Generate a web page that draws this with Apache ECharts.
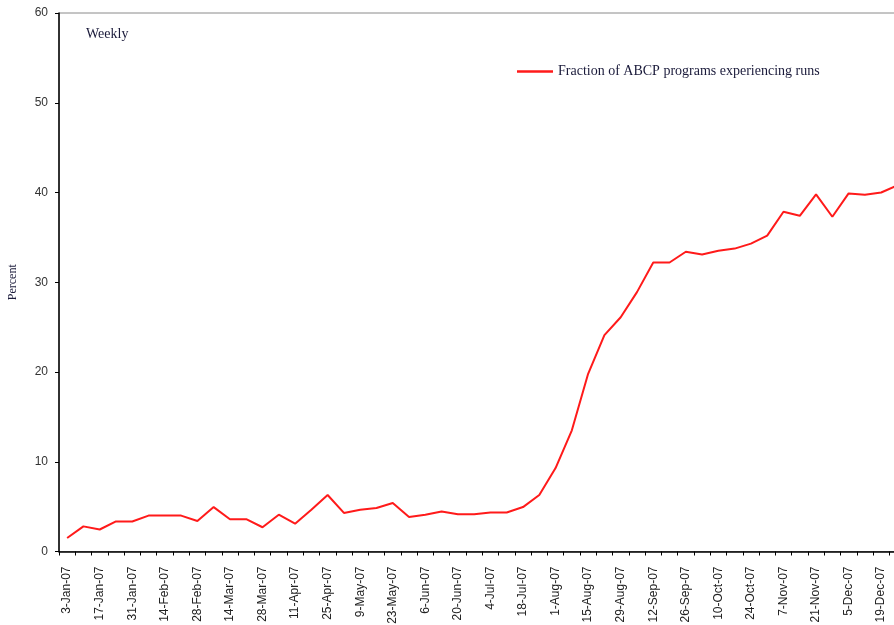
<!DOCTYPE html>
<html>
<head>
<meta charset="utf-8">
<script src="https://cdn.jsdelivr.net/npm/echarts@6/dist/echarts.min.js"></script>
<style>
html,body{margin:0;padding:0;background:#fff;}
#c{width:894px;height:625px;}
</style>
</head>
<body>
<div id="c"></div>
<script>
var categories = [
  '3-Jan-07','10-Jan-07','17-Jan-07','24-Jan-07','31-Jan-07',
  '7-Feb-07','14-Feb-07','21-Feb-07','28-Feb-07',
  '7-Mar-07','14-Mar-07','21-Mar-07','28-Mar-07',
  '4-Apr-07','11-Apr-07','18-Apr-07','25-Apr-07',
  '2-May-07','9-May-07','16-May-07','23-May-07','30-May-07',
  '6-Jun-07','13-Jun-07','20-Jun-07','27-Jun-07',
  '4-Jul-07','11-Jul-07','18-Jul-07','25-Jul-07',
  '1-Aug-07','8-Aug-07','15-Aug-07','22-Aug-07','29-Aug-07',
  '5-Sep-07','12-Sep-07','19-Sep-07','26-Sep-07',
  '3-Oct-07','10-Oct-07','17-Oct-07','24-Oct-07','31-Oct-07',
  '7-Nov-07','14-Nov-07','21-Nov-07','28-Nov-07',
  '5-Dec-07','12-Dec-07','19-Dec-07','26-Dec-07'
];
var seriesName = 'Fraction of ABCP programs experiencing runs';
var fractionRuns = [
  1.5, 2.8, 2.45, 3.35, 3.35,
  4.0, 4.0, 4.0, 3.4,
  4.95, 3.6, 3.6, 2.7,
  4.1, 3.1, 4.65, 6.3,
  4.3, 4.65, 4.85, 5.4, 3.85,
  4.1, 4.45, 4.15, 4.15,
  4.35, 4.35, 4.95, 6.3,
  9.3, 13.5, 19.8, 24.1, 26.1,
  28.9, 32.2, 32.2, 33.4,
  33.1, 33.5, 33.75, 34.3, 35.2,
  37.85, 37.4, 39.8, 37.3,
  39.9, 39.75, 40.0, 40.8
];
var yTicks = {min: 0, max: 60, interval: 10};

var chart = echarts.init(document.getElementById('c'), null, {renderer: 'canvas'});
chart.setOption({
  animation: false,
  backgroundColor: '#ffffff',
  grid: {
    left: 59, top: 13, bottom: 73.5, right: -11.6,
    containLabel: false,
    outerBoundsMode: 'none',
    show: true,
    borderColor: '#8a8a8a',
    borderWidth: 1,
    backgroundColor: 'transparent'
  },
  legend: {
    data: [{name: seriesName, icon: 'rect'}],
    left: 517, top: 64, padding: 0,
    itemWidth: 36, itemHeight: 2.5,
    itemStyle: {color: '#ff1a1a', borderWidth: 0},
    textStyle: {fontFamily: 'Liberation Serif', fontSize: 14, color: '#1a1a3a', lineHeight: 15}
  },
  graphic: [{
    type: 'text', left: 86, top: 27,
    style: {text: 'Weekly', font: '14px "Liberation Serif"', fill: '#1a1a3a'}
  }],
  xAxis: {
    type: 'category',
    data: categories,
    boundaryGap: true,
    axisLine: {show: true, lineStyle: {color: '#000', width: 1.5}},
    axisTick: {show: true, interval: 0, length: 4, lineStyle: {color: '#000'}},
    axisLabel: {
      interval: 1, rotate: 90, margin: 15,
      fontFamily: 'Liberation Sans', fontSize: 12, color: '#222'
    },
    splitLine: {show: false}
  },
  yAxis: {
    type: 'value',
    min: yTicks.min, max: yTicks.max, interval: yTicks.interval,
    name: 'Percent',
    nameLocation: 'middle',
    nameGap: 40,
    nameTextStyle: {fontFamily: 'Liberation Serif', fontSize: 12, color: '#1a1a3a'},
    axisLine: {show: true, lineStyle: {color: '#000', width: 1.5}},
    axisTick: {show: true, length: 4, lineStyle: {color: '#000'}},
    axisLabel: {margin: 11, fontFamily: 'Liberation Sans', fontSize: 12, color: '#333'},
    splitLine: {show: false}
  },
  series: [{
    name: seriesName,
    type: 'line',
    data: fractionRuns,
    symbol: 'none',
    showSymbol: false,
    smooth: false,
    clip: false,
    lineStyle: {color: '#ff1a1a', width: 2},
    itemStyle: {color: '#ff1a1a'}
  }]
});
</script>
</body>
</html>
